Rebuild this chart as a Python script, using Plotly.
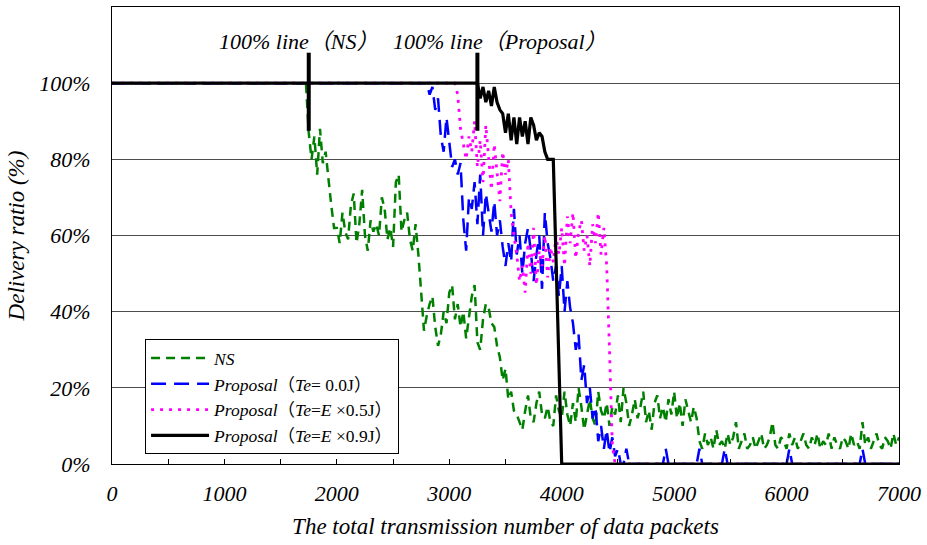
import numpy as np
import plotly.graph_objects as go

STEP = 25

# ---------------- data (delivery ratio, %) ----------------
ns_head_x = [0, 1725]
ns_head_y = [100, 100]
ns_start = 1750
ns_values = [
    87, 80, 86, 76, 88, 79, 82,
    74, 68, 62,
    62, 58, 66, 61, 59, 68, 71, 58, 63, 72, 60, 56, 64, 61, 63,
    60, 70, 67, 59, 62, 57, 74, 76, 61, 64, 66, 59, 56, 63,
    55, 44, 35,
    39, 42, 44, 36, 31, 34, 40, 37, 45, 47, 38, 42, 36, 40, 33,
    39, 44, 47, 32, 30, 38, 42, 41, 37, 36,
    31, 28, 22, 25, 17, 19, 14, 13,
    11, 9, 14, 18, 12, 11, 16, 19, 13, 12, 15, 11, 10, 18, 14,
    12, 19, 13, 10, 16, 11, 20, 15, 9, 13, 17, 12, 10, 19, 14,
    12, 16, 10, 15, 13, 18, 11, 20, 16, 10, 13, 17, 12, 15, 19,
    11, 14, 9, 16, 18, 12, 15, 11, 17, 13, 19, 12, 16, 10, 17,
    14, 11, 15, 12,
    6, 4, 8, 5, 7, 4, 9, 5, 6, 4, 8, 5, 7, 11, 4, 6, 8, 4, 5, 7,
    4, 6, 8, 4, 5, 7, 11, 5, 4, 7, 6, 4, 8, 5, 7, 4, 6, 8, 5, 4,
    7, 5, 8, 4, 6, 5, 8, 4, 7, 5, 4, 7, 6, 4, 8, 5, 6, 4, 11, 5,
    7, 4, 6, 8, 5, 4, 7, 6, 4, 8, 5, 7,
]

p00_head_x = [0, 2775]
p00_head_y = [100, 100]
p00_start = 2800
p00_values = [
    100, 97, 99, 93, 96, 86, 82, 91, 84, 78, 80, 76, 79, 64, 56,
    70, 67, 74, 63, 76, 60, 71, 66, 61, 69, 60, 64, 57, 52, 58,
    53, 67, 55, 60, 50, 58, 62, 56, 48, 55, 60, 46, 66, 58, 54,
    48, 52, 44, 52, 40, 48, 41, 37, 30, 34, 22, 26, 16, 20, 12,
    15, 6, 10, 4, 9, 3, 7, 2, 4, 0, 0,
]
p00_tail_x = [4575, 4600, 4625, 4900, 4925, 4950, 5200, 5225, 5250, 5425,
              5450, 5475, 6000, 6025, 6050, 6650, 6675, 6700, 7000]
p00_tail_y = [4, 0, 0, 0, 4, 0, 0, 4, 0, 0, 4, 0, 0, 4, 0, 0, 4, 0, 0]

p05_head_x = [0, 3050]
p05_head_y = [100, 100]
p05_start = 3075
p05_values = [
    97, 88, 84, 80, 86, 82, 90, 78, 85, 74, 89, 81, 72, 84, 77,
    69, 82, 76, 80, 66, 60, 55, 48, 52, 45, 58, 50, 62, 47, 56,
    52, 60, 49, 57, 53, 60, 55, 62, 52, 65, 58, 66, 54, 61, 64,
    56, 60, 52, 63, 58, 66, 55, 62, 52, 30, 5, 0,
]
p05_tail_x = [7000]
p05_tail_y = [0]

p09_head_x = [0, 3250]
p09_head_y = [100, 100]
p09_start = 3275
p09_values = [
    96, 99, 95, 98, 94, 99, 95, 93, 92, 87, 92, 85, 91, 84, 91,
    86, 90, 84, 91, 89, 85, 87, 86, 82, 80, 80, 80,
]
p09_tail_x = [4000, 7000]
p09_tail_y = [0, 0]

# "100% line" markers (x position, lower / upper end in %)
mark_x = [1750, 3250]
mark_lo, mark_hi = 87.5, 108
mark_labels = ["100% line（<i>NS</i>）", "100% line（<i>Proposal</i>）"]
mark_label_x = [1666, 3455]
mark_label_y = 111

x_ticks = [0, 1000, 2000, 3000, 4000, 5000, 6000, 7000]
y_ticks = [0, 20, 40, 60, 80, 100]
y_ticktext = ["0%", "20%", "40%", "60%", "80%", "100%"]

names = [
    "<i>NS</i>",
    "<i>Proposal</i>（<i>Te</i>= 0.0J）",
    "<i>Proposal</i>（<i>Te</i>=<i>E</i> ×0.5J）",
    "<i>Proposal</i>（<i>Te</i>=<i>E</i> ×0.9J）",
]


def series(head_x, head_y, start, values, tail_x=(), tail_y=()):
    xs = list(head_x) + [start + STEP * i for i in range(len(values))] + list(tail_x)
    ys = list(head_y) + list(values) + list(tail_y)
    return xs, ys


FONT = "Liberation Serif, Times New Roman, Noto Sans CJK JP, serif"

fig = go.Figure()

sx, sy = series(ns_head_x, ns_head_y, ns_start, ns_values)
fig.add_trace(go.Scatter(x=sx, y=sy, mode="lines", name=names[0],
                         line=dict(color="#008000", width=2.5, dash="9px,6px")))
sx, sy = series(p00_head_x, p00_head_y, p00_start, p00_values, p00_tail_x, p00_tail_y)
fig.add_trace(go.Scatter(x=sx, y=sy, mode="lines", name=names[1],
                         line=dict(color="#0000FF", width=2.5, dash="15px,8px")))
sx, sy = series(p05_head_x, p05_head_y, p05_start, p05_values, p05_tail_x, p05_tail_y)
fig.add_trace(go.Scatter(x=sx, y=sy, mode="lines", name=names[2],
                         line=dict(color="#FF00FF", width=2.8, dash="3px,6px")))
sx, sy = series(p09_head_x, p09_head_y, p09_start, p09_values, p09_tail_x, p09_tail_y)
fig.add_trace(go.Scatter(x=sx, y=sy, mode="lines", name=names[3],
                         line=dict(color="black", width=3.2)))

mx, my = [], []
for xv in mark_x:
    mx += [xv, xv, None]
    my += [mark_lo, mark_hi, None]
fig.add_trace(go.Scatter(x=mx, y=my, mode="lines", showlegend=False,
                         line=dict(color="black", width=4), cliponaxis=False))

for txt, xv in zip(mark_labels, mark_label_x):
    fig.add_annotation(x=xv, y=mark_label_y, text=txt, showarrow=False,
                       font=dict(family=FONT, size=22, color="black", style="italic"))

fig.update_layout(
    width=927, height=545,
    margin=dict(l=112, r=24, t=6, b=81),
    paper_bgcolor="white", plot_bgcolor="white",
    font=dict(family=FONT, color="black"),
    legend=dict(x=0.042, y=0.273, xanchor="left", yanchor="top",
                bgcolor="white", bordercolor="black", borderwidth=1,
                font=dict(family=FONT, size=17.5, color="black"),
                itemwidth=58, tracegroupgap=0),
)
fig.update_xaxes(
    range=[0, 7000], tickvals=x_ticks, ticks="inside", ticklen=5,
    tickcolor="black", minor=dict(dtick=500, ticks="inside", ticklen=5, tickcolor="black"),
    showline=True, linecolor="black", linewidth=1, mirror=True,
    showgrid=False, zeroline=False,
    tickfont=dict(family=FONT, size=22, style="italic"),
    ticklabelstandoff=10,
    title=dict(text="The total transmission number of data packets",
               font=dict(family=FONT, size=23, style="italic"), standoff=12),
)
fig.update_yaxes(
    range=[0, 120], tickvals=y_ticks, ticktext=y_ticktext, ticks="",
    showline=True, linecolor="black", linewidth=1, mirror=True,
    showgrid=True, gridcolor="#4d4d4d", gridwidth=1, zeroline=False,
    tickfont=dict(family=FONT, size=22, style="italic"),
    ticklabelstandoff=16,
    title=dict(text="Delivery ratio (%)",
               font=dict(family=FONT, size=23, style="italic"), standoff=8),
)

fig.write_html("out.html", config={"displayModeBar": False},
               post_script="document.body.style.margin='0px';")
